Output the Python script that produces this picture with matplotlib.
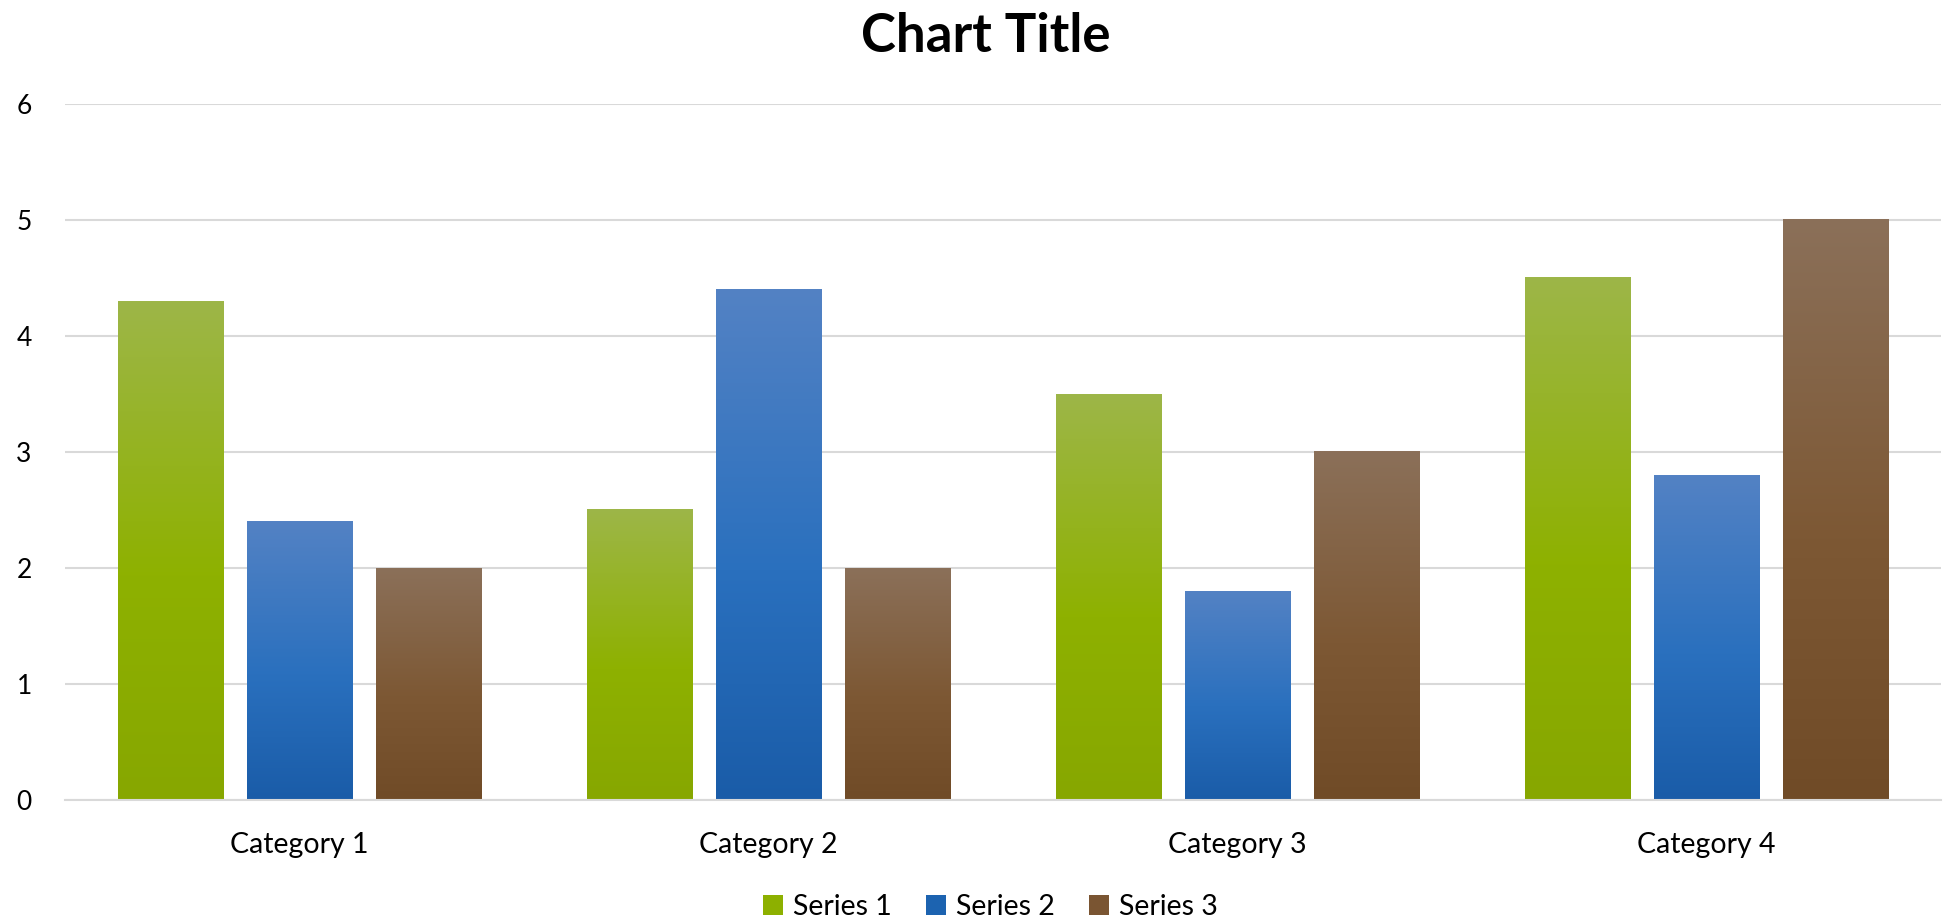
import numpy as np
import matplotlib.pyplot as plt
from matplotlib.colors import LinearSegmentedColormap
from matplotlib.patches import Patch

plt.rcParams['font.family'] = ['Lato', 'DejaVu Sans']

categories = ["Category 1", "Category 2", "Category 3", "Category 4"]
series_names = ["Series 1", "Series 2", "Series 3"]
series1 = [4.3, 2.5, 3.5, 4.5]
series2 = [2.4, 4.4, 1.8, 2.8]
series3 = [2, 2, 3, 5]
yticks = [0, 1, 2, 3, 4, 5, 6]

# top, middle, bottom of each bar's gradient
gradients = [
    ["#9db648", "#8eb100", "#87a700"],
    ["#5382c4", "#2a70be", "#1a5ca8"],
    ["#8b7059", "#7d5834", "#704b27"],
]
solid = ["#8db000", "#1c63b0", "#7a5532"]

fig = plt.figure(figsize=(19.46, 9.22), dpi=100)
ax = fig.add_axes([65/1946, 1-800/922, 1876/1946, 696/922])

x = np.arange(len(categories))
width = 0.224
step = 0.275
values = [series1, series2, series3]

for k, vals in enumerate(values):
    bars = ax.bar(x + (k-1)*step, vals, width, color='none', zorder=2)
    cmap = LinearSegmentedColormap.from_list("g%d" % k, [(0, gradients[k][2]), (0.45, gradients[k][1]), (1, gradients[k][0])])
    grad = np.linspace(0, 1, 256).reshape(-1, 1)
    for b in bars:
        x0 = b.get_x()
        h = b.get_height()
        ax.imshow(grad, cmap=cmap, origin='lower', aspect='auto',
                  extent=[x0, x0 + b.get_width(), 0, h], zorder=2, interpolation='bilinear')

ax.set_xlim(-0.5, len(categories) - 0.5)
ax.set_ylim(0, 6)
ax.set_yticks(yticks)
ax.set_xticks(x)
ax.set_xticklabels(categories)
ax.yaxis.grid(True, color='#d9d9d9', linewidth=1.5, zorder=0)
ax.set_axisbelow(True)
for s in ['top', 'right', 'left']:
    ax.spines[s].set_visible(False)
ax.spines['bottom'].set_color('#d9d9d9')
ax.spines['bottom'].set_linewidth(1.5)
ax.tick_params(axis='both', length=0, colors='black')
ax.tick_params(axis='y', pad=24, labelsize=19)
ax.tick_params(axis='x', pad=23, labelsize=20.5)

fig.text(0.5067, 0.944, "Chart Title", ha='center', va='baseline', fontsize=38, fontweight='bold')

handles = [Patch(facecolor=solid[i], label=series_names[i]) for i in range(3)]
fig.legend(handles=handles, loc='center', bbox_to_anchor=(0.509, 1-907/922), ncol=3,
           frameon=False, fontsize=20.5, handlelength=0.7, handleheight=0.7,
           handletextpad=0.35, columnspacing=1.2)

fig.savefig("out.png", dpi=100)
